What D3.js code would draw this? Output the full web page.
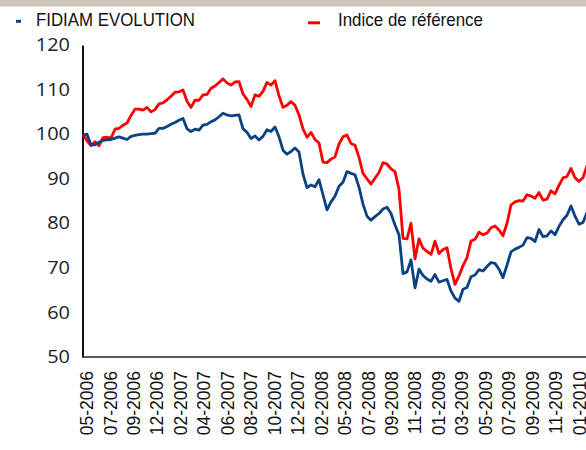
<!DOCTYPE html>
<html>
<head>
<meta charset="utf-8">
<script src="https://cdn.jsdelivr.net/npm/d3@7"></script>
<style>
  body { margin: 0; background: #fff; }
  svg { display: block; }
</style>
</head>
<body>
<script>
// weekly-ish samples
const fidiam = [
  99.8, 100, 97.6, 97.6, 98.2, 98.6, 98.7, 98.8, 99.1, 99.4,
  99.1, 98.8, 99.5, 99.7, 99.9, 100, 100, 100.1, 100.2, 101.3,
  101.3, 101.7, 102.2, 102.6, 103.1, 103.5, 101.2, 100.6, 101.1, 100.9,
  102, 102.2, 102.8, 103.2, 103.9, 104.7, 104.3, 104.1, 104.2, 104.3,
  101.2, 100.4, 99, 99.6, 98.7, 99.5, 101, 100.6, 101.6, 99.4,
  96.4, 95.5, 96.1, 96.9, 96, 91, 88, 88.6, 88.2, 89.8,
  86.4, 83, 84.8, 86.1, 88.3, 89.2, 91.6, 91.2, 90.9, 88.1,
  84.3, 81.6, 80.7, 81.5, 82.2, 83.2, 83.6, 82.2, 79.6, 77.4,
  68.7, 69.1, 71.8, 65.5, 69.7, 68.3, 67.5, 67, 68.5, 66.8,
  67.1, 67.4, 64.8, 63.2, 62.5, 65.2, 65.6, 68, 68.4, 69.6,
  69.3, 70.3, 71.2, 71, 69.7, 67.8, 70.6, 73.6, 74.2, 74.6,
  75.1, 76.8, 76.6, 75.9, 78.6, 77, 77.2, 78.3, 77.4, 79.3,
  80.8, 81.8, 83.9, 81.6, 79.8, 80.2, 82.5
];

const indice = [
  100, 98.5, 97.4, 98.3, 97.4, 99.2, 99.3, 99.1, 101.1, 101.3,
  102, 102.5, 104.2, 105.6, 105.6, 105.4, 106, 105, 105.5, 106.8,
  107, 107.7, 108.5, 109.4, 109.5, 109.9, 107.4, 106, 107.6, 107.6,
  108.8, 108.9, 110.3, 110.8, 111.6, 112.4, 111.5, 111, 111.7, 111.8,
  109, 107.8, 106.2, 108.8, 108.5, 109.6, 111.6, 111, 112, 108.6,
  106, 106.5, 107.3, 106.5, 104.3, 101.2, 99.3, 100.4, 98.8, 98,
  93.7, 93.6, 94.4, 94.9, 97.8, 99.4, 99.8, 97.9, 97.5, 94.8,
  91.2, 90, 88.8, 90.1, 91.4, 93.6, 93.3, 92.2, 91.6, 87.6,
  76.6, 76.5, 80, 72, 76.5, 74.4, 73.7, 73, 76, 73.2,
  74.1, 74.5, 69.8, 66.3, 68.2, 70.5, 72.3, 76, 76.4, 78,
  77.4, 77.8, 79, 79.4, 78.5, 77.2, 80, 84.1, 84.8, 85.1,
  85, 86.4, 86.1, 85.6, 86.9, 85.2, 85.4, 87.3, 86.6, 88.5,
  90.2, 90.5, 92.3, 90.2, 89.4, 90.2, 93
];

const monthLabels = [
  "05-2006", "07-2006", "09-2006", "12-2006", "02-2007", "04-2007",
  "06-2007", "08-2007", "10-2007", "12-2007", "02-2008", "05-2008",
  "07-2008", "09-2008", "11-2008", "01-2009", "03-2009", "05-2009",
  "07-2009", "09-2009", "11-2009", "01-2010"
];

const yTicks = [50, 60, 70, 80, 90, 100, 110, 120];

const seriesNames = ["FIDIAM EVOLUTION", "Indice de référence"];

const W = 586, H = 450;
const blue = "#0b4282", red = "#ff0000";

const svg = d3.select("body").append("svg")
  .attr("width", W)
  .attr("height", H);

svg.append("rect")
  .attr("width", W)
  .attr("height", H)
  .attr("fill", "#fff");

// cut-off title band at the top
svg.append("rect")
  .attr("width", W)
  .attr("height", 6.5)
  .attr("fill", "#ccc5b5");

const x = d3.scaleLinear()
  .domain([0, fidiam.length - 1])
  .range([83, 587]);

const xLab = d3.scalePoint()
  .domain(monthLabels)
  .range([87, 579.5]);

const y = d3.scaleLinear()
  .domain([50, 120])
  .range([357, 45]);

// y axis
const yAxis = svg.append("g")
  .attr("transform", "translate(82.5,0)")
  .call(d3.axisLeft(y).tickValues(yTicks).tickSize(0).tickPadding(12.5));

yAxis.select(".domain")
  .attr("stroke", "#111")
  .attr("stroke-width", 2);

yAxis.selectAll("text")
  .attr("fill", "#222")
  .style("font-family", "'Open Sans', sans-serif")
  .style("font-size", "17.5px")
  .attr("textLength", d => String(d).length * 11.4)
  .attr("lengthAdjust", "spacingAndGlyphs");

// x axis line
svg.append("line")
  .attr("x1", 82)
  .attr("x2", W)
  .attr("y1", 357)
  .attr("y2", 357)
  .attr("stroke", "#222")
  .attr("stroke-width", 1.5);

// x labels, rotated
svg.append("g")
  .selectAll("text")
  .data(monthLabels)
  .join("text")
  .attr("transform", d => "translate(" + xLab(d) + ",371) rotate(-90)")
  .attr("text-anchor", "end")
  .attr("dy", "0.35em")
  .attr("fill", "#111")
  .style("font-family", "'Liberation Sans', Arial, sans-serif")
  .style("font-size", "17.5px")
  .text(d => d);

const line = d3.line()
  .x((d, i) => x(i))
  .y(d => y(d));

svg.append("path")
  .datum(indice)
  .attr("fill", "none")
  .attr("stroke", red)
  .attr("stroke-width", 2.8)
  .attr("stroke-linejoin", "round")
  .attr("d", line);

svg.append("path")
  .datum(fidiam)
  .attr("fill", "none")
  .attr("stroke", blue)
  .attr("stroke-width", 2.8)
  .attr("stroke-linejoin", "round")
  .attr("d", line);

// legend
const legend = [
  {name: seriesNames[0], color: blue, x1: 16, x2: 21, y: 21.3, tx: 36, len: 159},
  {name: seriesNames[1], color: red, x1: 308, x2: 320, y: 22.8, tx: 338, len: 145}
];

const lg = svg.append("g")
  .selectAll("g")
  .data(legend)
  .join("g");

lg.append("line")
  .attr("x1", d => d.x1)
  .attr("x2", d => d.x2)
  .attr("y1", d => d.y)
  .attr("y2", d => d.y)
  .attr("stroke", d => d.color)
  .attr("stroke-width", 3);

lg.append("text")
  .attr("x", d => d.tx)
  .attr("y", 26)
  .attr("textLength", d => d.len)
  .attr("lengthAdjust", "spacingAndGlyphs")
  .attr("fill", "#111")
  .style("font-family", "'Liberation Sans', Arial, sans-serif")
  .style("font-size", "19px")
  .text(d => d.name);
</script>
</body>
</html>
